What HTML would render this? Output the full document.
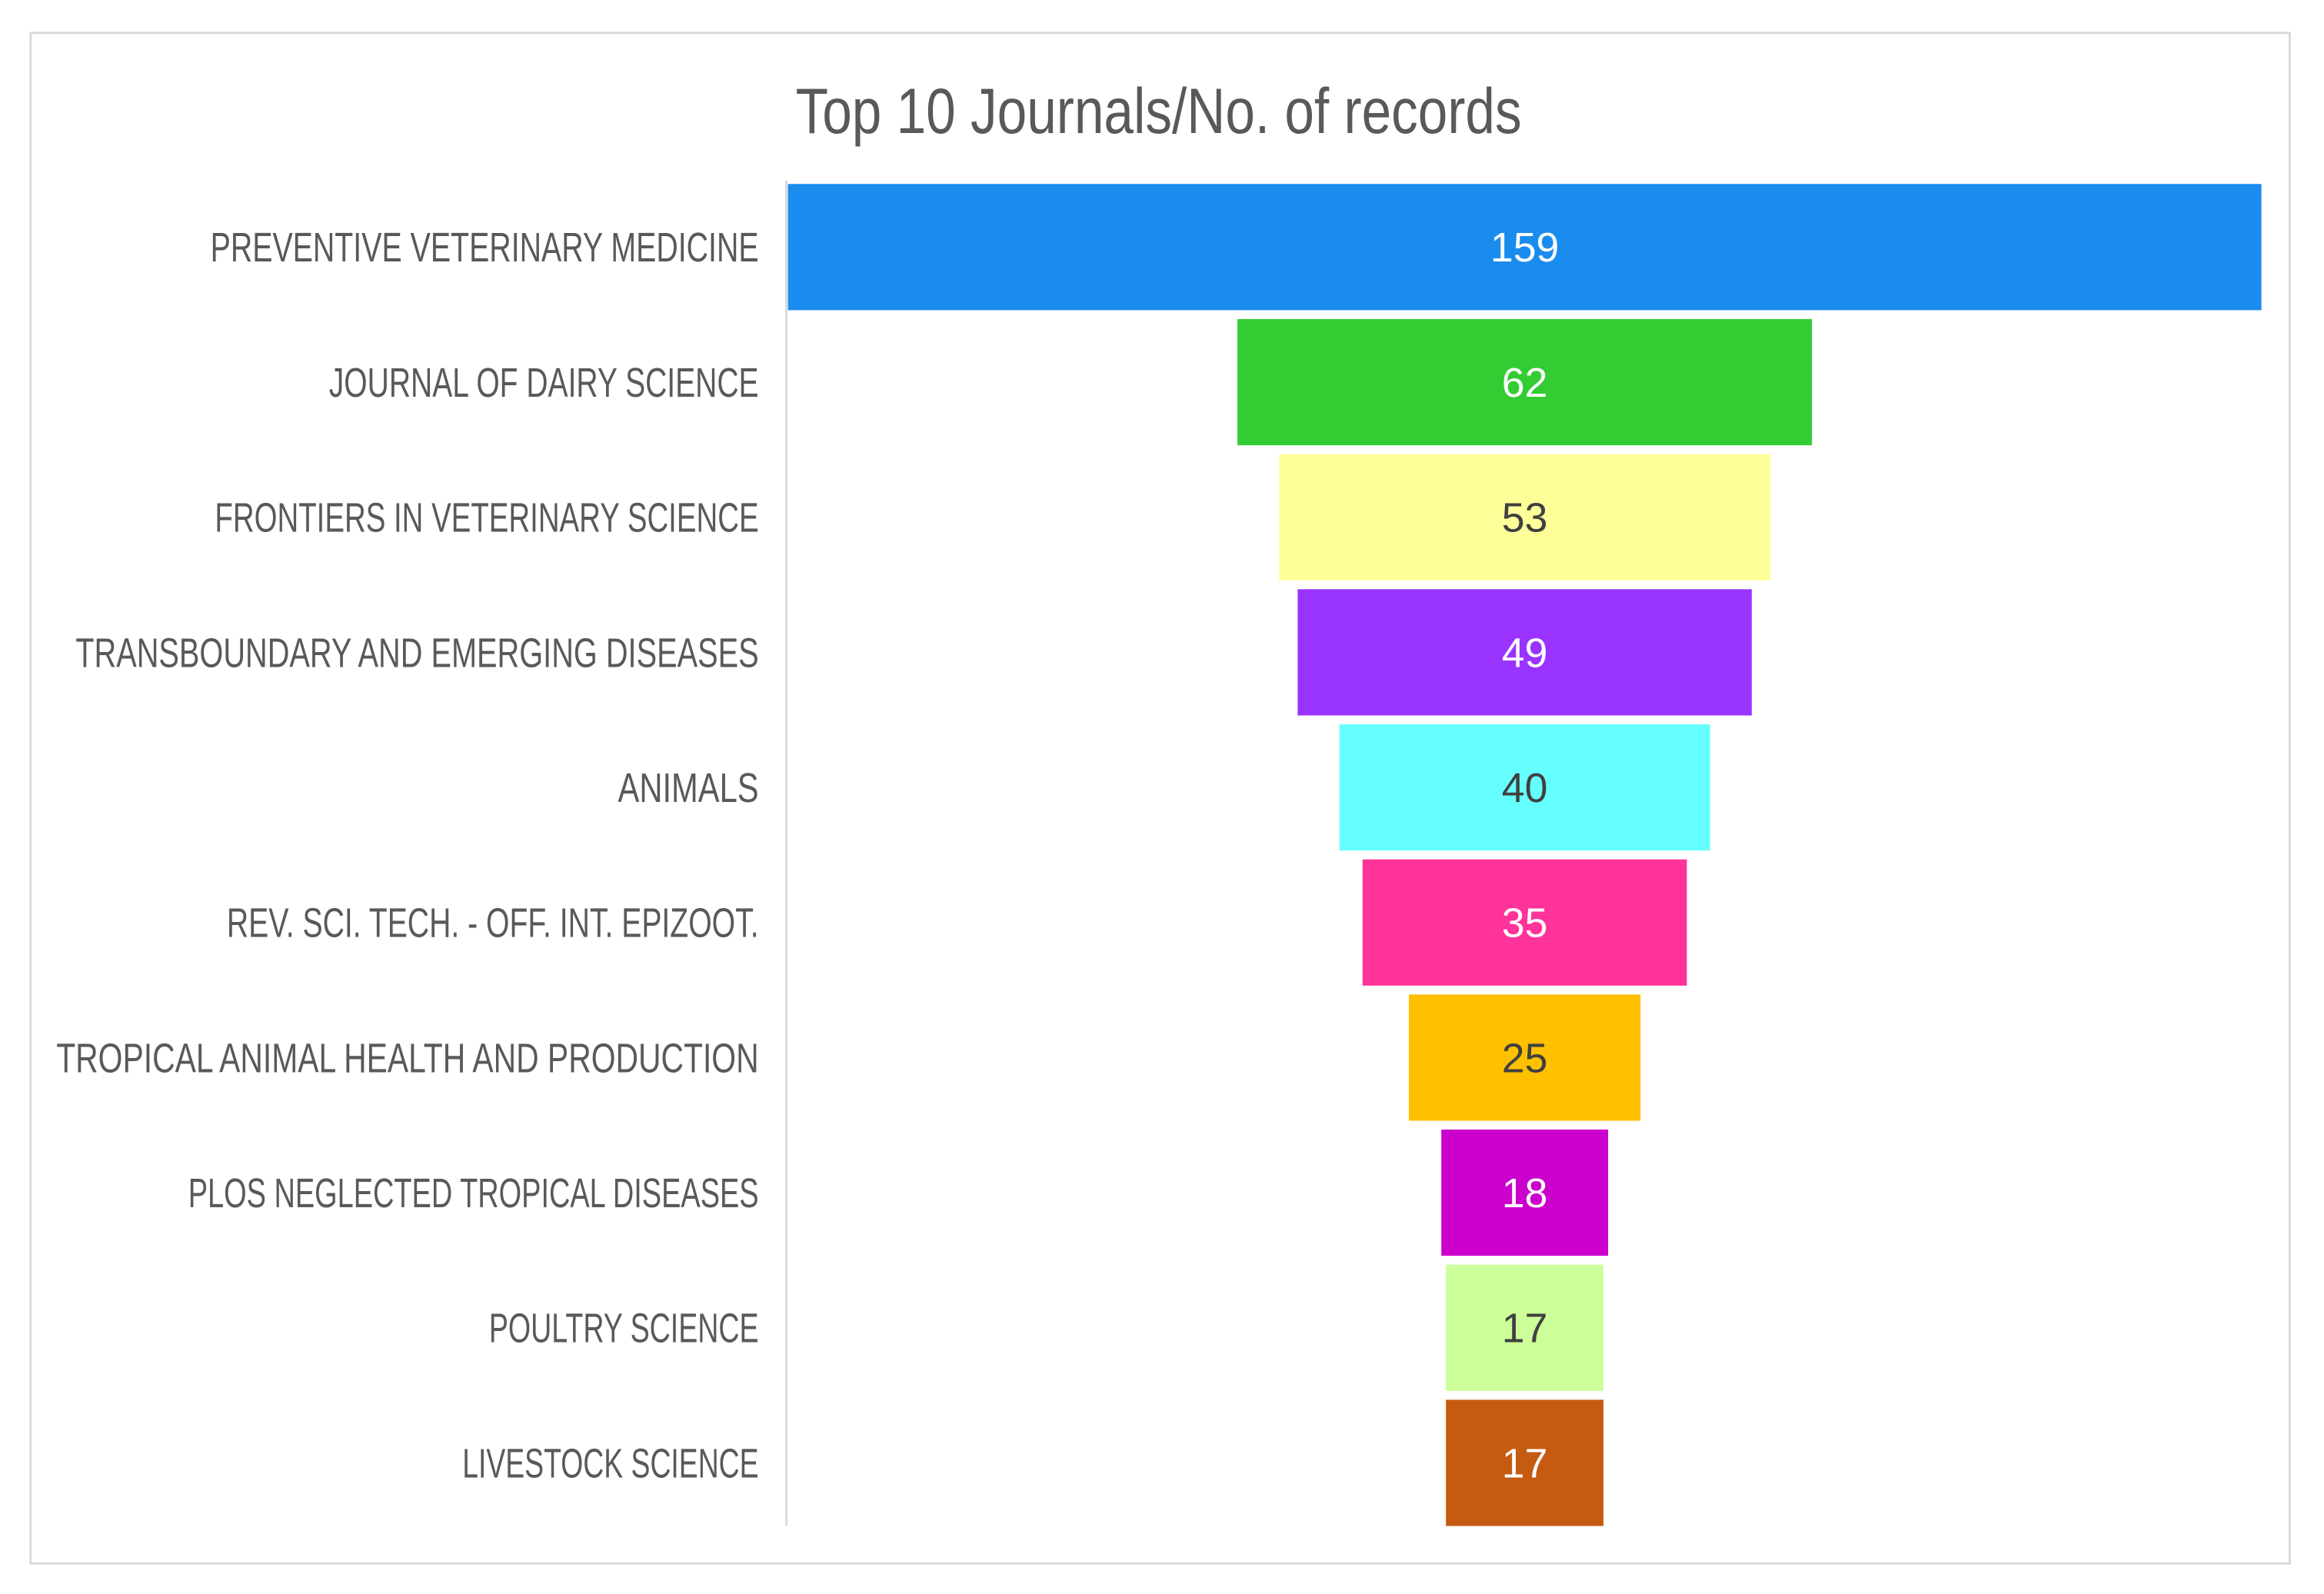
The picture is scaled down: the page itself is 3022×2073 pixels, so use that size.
<!DOCTYPE html>
<html><head><meta charset="utf-8"><style>
html,body{margin:0;padding:0;background:#fff;}
svg{display:block;font-family:"Liberation Sans",sans-serif;}
</style></head><body>
<svg width="3022" height="2073" viewBox="0 0 3022 2073">
<g transform="scale(0.9948)">
<rect x="40" y="43" width="2953" height="2001" fill="#fff" stroke="#d9d9d9" stroke-width="3"/>
<text x="1040" y="174" font-size="84" fill="#595959" textLength="949" lengthAdjust="spacingAndGlyphs">Top 10 Journals/No. of records</text>
<line x1="1028" y1="236" x2="1028" y2="1995" stroke="#d9d9d9" stroke-width="3"/>
<g id="bars"></g>
</g>
<script>
const categories=["PREVENTIVE VETERINARY MEDICINE","JOURNAL OF DAIRY SCIENCE","FRONTIERS IN VETERINARY SCIENCE","TRANSBOUNDARY AND EMERGING DISEASES","ANIMALS","REV. SCI. TECH. - OFF. INT. EPIZOOT.","TROPICAL ANIMAL HEALTH AND PRODUCTION","PLOS NEGLECTED TROPICAL DISEASES","POULTRY SCIENCE","LIVESTOCK SCIENCE"];
const values=[159,62,53,49,40,35,25,18,17,17];
const colors=["#1a8ced","#33cc33","#ffff99","#9933ff","#66ffff","#ff3399","#ffc000","#cc00cc","#ccff99","#c55a11"];
const labelColors=["#fff","#fff","#404040","#fff","#404040","#fff","#404040","#fff","#404040","#fff"];
const labelLeft=[142,222,145,51,417,153,38,127,330,312];
const NS="http://www.w3.org/2000/svg";
const g=document.getElementById('bars');
const cx=1993, maxW=1926, maxV=159, y0=323, pitch=176.6, bandH=165;
function w(v){return v/maxV*maxW;}
function yc(i){return y0+i*pitch;}
values.forEach((v,i)=>{
  const r=document.createElementNS(NS,'rect');
  r.setAttribute('x',cx-w(v)/2);r.setAttribute('y',yc(i)-bandH/2);
  r.setAttribute('width',w(v));r.setAttribute('height',bandH);r.setAttribute('fill',colors[i]);
  
  
  g.appendChild(r);
  const t=document.createElementNS(NS,'text');
  t.setAttribute('x',cx);t.setAttribute('y',yc(i)+19);t.setAttribute('text-anchor','middle');
  t.setAttribute('font-size','54');t.setAttribute('fill',labelColors[i]);
  t.textContent=v;
  
  
  g.appendChild(t);
  const c=document.createElementNS(NS,'text');
  c.setAttribute('x',labelLeft[i]*1.937);c.setAttribute('y',yc(i)+19);
  c.setAttribute('font-size','54');c.setAttribute('fill','#595959');
  c.setAttribute('textLength',(512-labelLeft[i])*1.937);c.setAttribute('lengthAdjust','spacingAndGlyphs');
  c.textContent=categories[i];
  
  
  g.appendChild(c);
});
</script>
</svg>
</body></html>
